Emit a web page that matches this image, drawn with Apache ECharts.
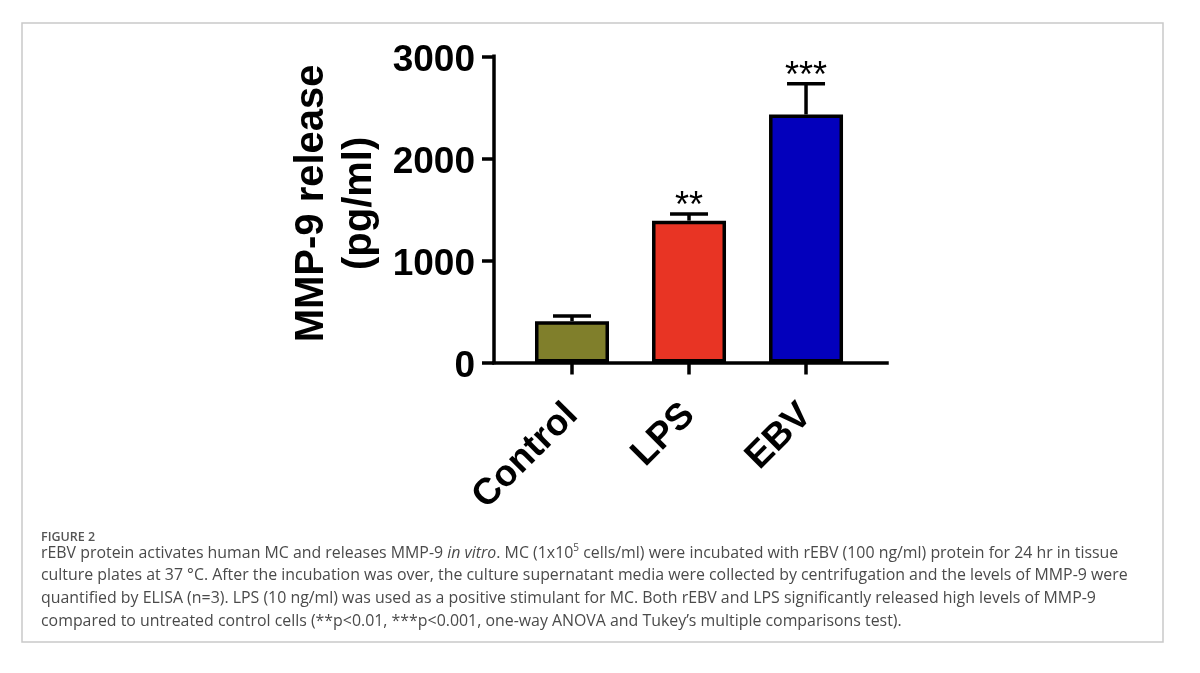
<!DOCTYPE html>
<html>
<head>
<meta charset="utf-8">
<script src="https://cdn.jsdelivr.net/npm/echarts@6/dist/echarts.min.js"></script>
<style>
html,body{margin:0;padding:0;background:#fff;}
#chart{width:1200px;height:673px;}
</style>
</head>
<body>
<div id="chart"></div>
<script>
// ---- data ----
const categories = ['Control', 'LPS', 'EBV'];
const positions = [1, 2, 3];
const means = [405, 1390, 2430];
const errors = [50, 65, 300];
const stars = ['', '**', '***'];
const barColors = ['#807f2b', '#e83424', '#0300bc'];
const yTicks = [0, 1000, 2000, 3000];
const yTitle = 'MMP-9 release\n(pg/ml)';
const figureLabel = 'FIGURE 2';
const captionLines = [
  '{n|rEBV protein activates human MC and releases MMP-9 }{i|in vitro}{n|. MC (1x10}{s|5}{n| cells/ml) were incubated with rEBV (100 ng/ml) protein for 24 hr in tissue}',
  'culture plates at 37 °C. After the incubation was over, the culture supernatant media were collected by centrifugation and the levels of MMP-9 were',
  'quantified by ELISA (n=3). LPS (10 ng/ml) was used as a positive stimulant for MC. Both rEBV and LPS significantly released high levels of MMP-9',
  'compared to untreated control cells (**p<0.01, ***p<0.001, one-way ANOVA and Tukey\u2019s multiple comparisons test).'
];

const chart = echarts.init(document.getElementById('chart'), null, {renderer: 'canvas'});
const boldFont = 'Liberation Sans, Arial, Helvetica, sans-serif';
const capFont = '"Open Sans", Lato, sans-serif';
const capColor = '#4a4a4a';
const capSize = 15.9;

const graphics = [
  {type: 'rect', shape: {x: 22, y: 23, width: 1141, height: 619},
   style: {fill: 'none', stroke: '#c9c9c9', lineWidth: 1.5}, silent: true},
  {type: 'text', x: 41, y: 537, style: {text: figureLabel, fill: '#555', font: '600 12.5px ' + capFont, textVerticalAlign: 'middle'}}
];
const capY = [553, 575.7, 598.3, 621];
captionLines.forEach((t, i) => {
  graphics.push({
    type: 'text', x: 41, y: capY[i],
    style: {
      text: i === 0 ? t : '{n|' + t + '}',
      textVerticalAlign: 'middle',
      rich: {
        n: {fontFamily: capFont, fontSize: capSize, fill: capColor, color: capColor},
        i: {fontFamily: capFont, fontSize: capSize, fontStyle: 'italic', fill: capColor, color: capColor},
        s: {fontFamily: capFont, fontSize: 10, fill: capColor, color: capColor, padding: [0, 0, 10, 0]}
      }
    }
  });
});

const option = {
  animation: false,
  backgroundColor: '#fff',
  grid: {left: 494, right: 313, top: 56.3, bottom: 310.5, containLabel: false},
  xAxis: {
    type: 'value',
    min: 1 / 3,
    max: 3.692,
    splitLine: {show: false},
    axisLine: {show: true, onZero: false, lineStyle: {color: '#000', width: 3.5, cap: 'square'}},
    axisTick: {show: true, customValues: positions, length: 12, lineStyle: {color: '#000', width: 3.5}},
    axisLabel: {
      customValues: positions,
      formatter: v => categories[Math.round(v) - 1] || '',
      rotate: 45,
      margin: 47,
      color: '#000',
      fontFamily: boldFont,
      fontWeight: 'bold',
      fontSize: 37
    }
  },
  yAxis: {
    type: 'value',
    min: 0,
    max: 3000,
    interval: 1000,
    splitLine: {show: false},
    axisLine: {show: true, lineStyle: {color: '#000', width: 3.5, cap: 'square'}},
    axisTick: {show: true, length: 12, lineStyle: {color: '#000', width: 3.5}},
    axisLabel: {
      margin: 19,
      formatter: v => (yTicks.indexOf(v) >= 0 ? '{t|' + v + '}' : ''),
      rich: {
        t: {color: '#000', fontFamily: boldFont, fontWeight: 'bold', fontSize: 37, padding: [9, 0, 0, 0]}
      }
    },
    name: yTitle,
    nameLocation: 'middle',
    nameRotate: 90,
    nameGap: 110,
    nameTextStyle: {color: '#000', fontFamily: boldFont, fontWeight: 'bold', fontSize: 40, lineHeight: 48, padding: [0, 0, 0, 12]}
  },
  series: [
    {
      type: 'bar',
      barWidth: 74,
      data: positions.map((p, i) => ({value: [p, means[i]], itemStyle: {color: barColors[i]}})),
      itemStyle: {borderColor: '#000', borderWidth: 3.5},
      z: 2
    },
    {
      type: 'custom',
      z: 3,
      data: positions.map((p, i) => [p, means[i], errors[i], i]),
      renderItem: (params, api) => {
        const x = api.value(0), m = api.value(1), e = api.value(2), idx = api.value(3);
        const base = api.coord([x, m]);
        const top = api.coord([x, m + e]);
        const ls = {stroke: '#000', lineWidth: 3.5};
        return {
          type: 'group',
          children: [
            {type: 'line', shape: {x1: top[0], y1: base[1], x2: top[0], y2: top[1]}, style: ls},
            {type: 'line', shape: {x1: top[0] - 19, y1: top[1], x2: top[0] + 19, y2: top[1]}, style: ls},
            {type: 'text', style: {text: stars[idx], x: top[0], y: top[1] - 6.5, textAlign: 'center',
              textVerticalAlign: 'middle', fill: '#000', font: 'normal 36px ' + boldFont}}
          ]
        };
      }
    }
  ],
  graphic: graphics
};
chart.setOption(option);
</script>
</body>
</html>
